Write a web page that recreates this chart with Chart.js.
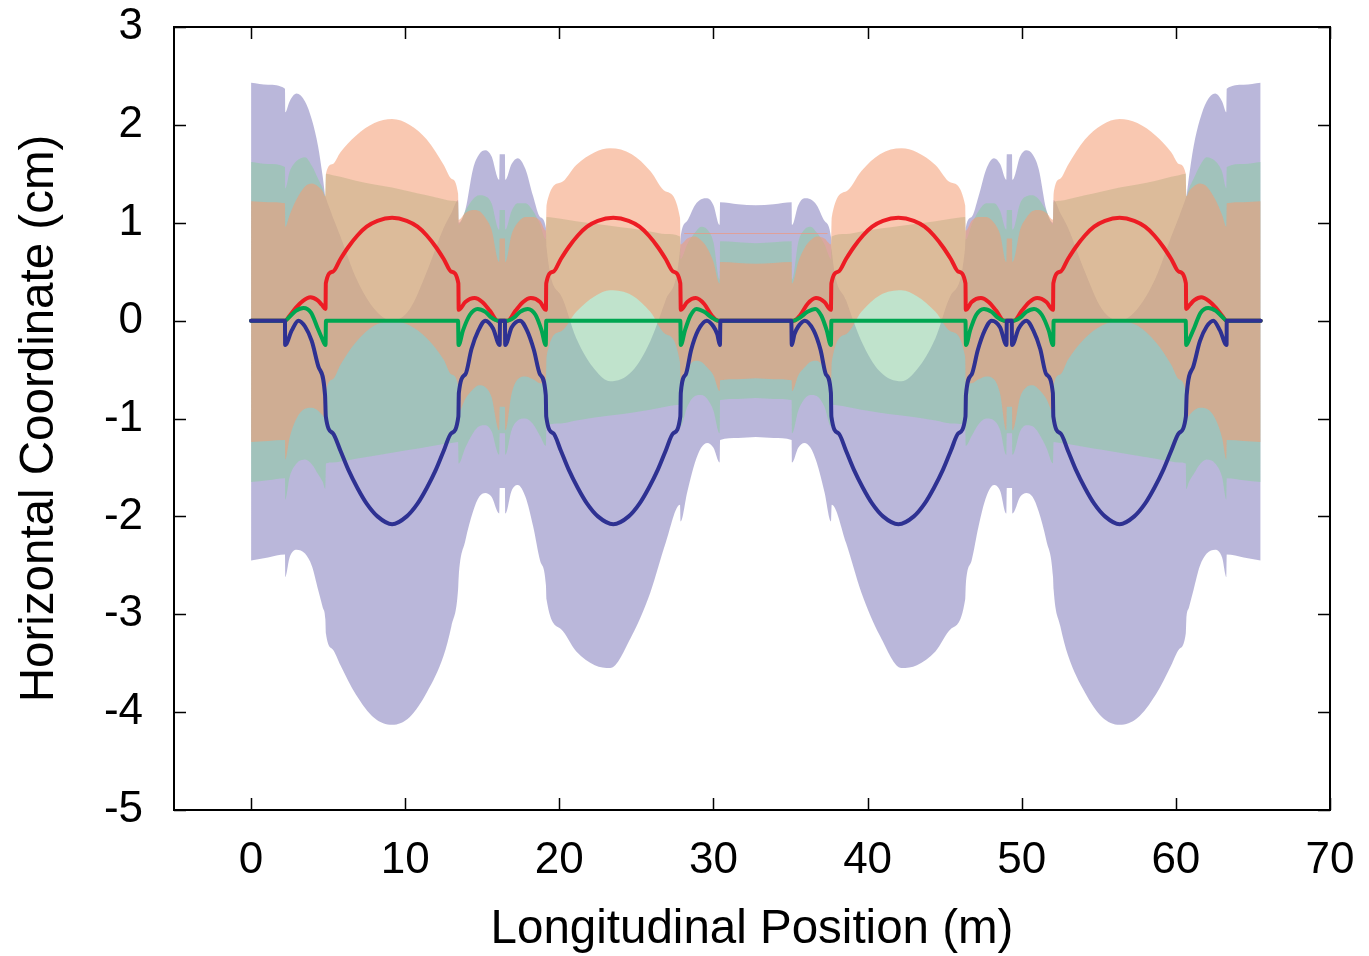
<!DOCTYPE html>
<html>
<head>
<meta charset="utf-8">
<title>Horizontal Coordinate vs Longitudinal Position</title>
<script src="https://cdn.jsdelivr.net/npm/chart.js@4.4.1/dist/chart.umd.min.js"></script>
<style>
  html, body { margin: 0; padding: 0; background: #fff; }
  #wrap { width: 1369px; height: 956px; }
</style>
</head>
<body>
<div id="wrap"><canvas id="chart" width="1369" height="956"></canvas></div>
<script>
(function () {
	'use strict';

	// ——— Axis ticks ———
	var xTicks = [0, 10, 20, 30, 40, 50, 60, 70];
	var yTicks = [-5, -4, -3, -2, -1, 0, 1, 2, 3];

	// ——— Beam envelopes (m, cm), shared positions ———
	var envPos = [
		0, 1.1, 2.2, 2.22, 2.5, 2.95, 3.5, 3.95, 4.35, 4.65, 4.82, 4.86, 5.3, 5.8, 6.8, 8.0, 9.15, 10.3, 11.4,
		12.5, 13.0, 13.43, 13.47, 13.9, 14.4, 14.8, 15.2, 15.6, 16.1, 16.13, 16.47, 16.5, 16.9, 17.3, 17.8,
		18.3, 18.75, 19.13, 19.17, 20.1, 21.1, 22.3, 23.3, 24.7, 25.9, 26.9, 27.83, 27.87, 28.3, 28.8, 29.2,
		29.6, 30.0, 30.4, 30.43, 31.6, 32.75,
		33.9, 35.07, 35.1, 35.5, 35.9, 36.3, 36.7, 37.2, 37.63, 37.67, 38.6, 39.6, 40.8, 42.2, 43.2, 44.4,
		45.4, 46.33, 46.37, 46.75, 47.2, 47.7, 48.2, 48.6, 49.0, 49.03, 49.37, 49.4, 49.9, 50.3, 50.7, 51.1,
		51.6, 52.03, 52.07, 52.5, 53.0, 54.1, 55.2, 56.35, 57.5, 58.7, 59.7, 60.2, 60.64, 60.68, 60.85, 61.15,
		61.55, 62.0, 62.55, 63.0, 63.28, 63.3, 64.4, 65.5
	];
	var purpleUpper = [
		2.43, 2.41, 2.37, 2.13, 2.24, 2.32, 2.24, 2.05, 1.78, 1.47, 1.27, 1.25, 1.06, 0.86, 0.44, 0.12, 0.0, 0.12, 0.5,
		0.95, 1.1, 1.23, 1.0, 1.13, 1.55, 1.7, 1.74, 1.68, 1.44, 1.7, 1.7, 1.44, 1.6, 1.66, 1.55,
		1.27, 1.06, 0.95, 0.75, 0.26, -0.18, -0.5, -0.62, -0.52, -0.21, 0.21, 0.73, 0.85, 1.02, 1.18, 1.24,
		1.25, 1.18, 0.98, 1.21, 1.19, 1.18,
		1.19, 1.21, 0.98, 1.18, 1.25, 1.24, 1.18, 1.02, 0.85, 0.73, 0.21, -0.21, -0.52, -0.62, -0.5, -0.18,
		0.26, 0.75, 0.95, 1.06, 1.27, 1.55, 1.66, 1.6, 1.44, 1.7, 1.7, 1.44, 1.68, 1.74, 1.7, 1.55,
		1.13, 1.0, 1.23, 1.1, 0.95, 0.5, 0.12, 0.0, 0.12, 0.44, 0.86, 1.06, 1.25, 1.27, 1.47, 1.78,
		2.05, 2.24, 2.32, 2.24, 2.13, 2.37, 2.41, 2.43
	];
	var purpleLower = [
		-2.45, -2.42, -2.39, -2.62, -2.42, -2.34, -2.38, -2.51, -2.75, -2.93, -3.05, -3.2, -3.36, -3.52, -3.82, -4.06, -4.13, -4.05, -3.8,
		-3.42, -3.12, -2.75, -2.62, -2.25, -1.95, -1.8, -1.76, -1.8, -1.97, -1.71, -1.71, -1.97, -1.74, -1.68, -1.8,
		-2.1, -2.45, -2.7, -2.85, -3.15, -3.38, -3.52, -3.55, -3.22, -2.78, -2.27, -1.88, -2.05, -1.75, -1.45, -1.3,
		-1.25, -1.3, -1.45, -1.22, -1.2, -1.19,
		-1.2, -1.22, -1.45, -1.3, -1.25, -1.3, -1.45, -1.75, -2.05, -1.88, -2.27, -2.78, -3.22, -3.55, -3.52, -3.38,
		-3.15, -2.85, -2.7, -2.45, -2.1, -1.8, -1.68, -1.74, -1.97, -1.71, -1.71, -1.97, -1.8, -1.76, -1.8, -1.95,
		-2.25, -2.62, -2.75, -3.12, -3.42, -3.8, -4.05, -4.13, -4.06, -3.82, -3.52, -3.36, -3.2, -3.05, -2.93, -2.75,
		-2.51, -2.38, -2.34, -2.42, -2.62, -2.39, -2.42, -2.45
	];
	var greenUpper = [
		1.62, 1.6, 1.57, 1.35, 1.52, 1.63, 1.67, 1.58, 1.45, 1.35, 1.27, 1.5, 1.485, 1.47, 1.43, 1.39, 1.36, 1.32, 1.28,
		1.24, 1.225, 1.21, 0.98, 1.12, 1.24, 1.28, 1.27, 1.2, 0.93, 1.13, 1.13, 0.93, 1.12, 1.2, 1.2,
		1.12, 0.98, 0.83, 1.06, 1.04, 1.015, 0.99, 0.97, 0.94, 0.91, 0.885, 0.86, 0.63, 0.78, 0.9, 0.96,
		0.93, 0.8, 0.42, 0.81, 0.8, 0.79,
		0.8, 0.81, 0.42, 0.8, 0.93, 0.96, 0.9, 0.78, 0.63, 0.86, 0.885, 0.91, 0.94, 0.97, 0.99, 1.015,
		1.04, 1.06, 0.83, 0.98, 1.12, 1.2, 1.2, 1.12, 0.93, 1.13, 1.13, 0.93, 1.2, 1.27, 1.28, 1.24,
		1.12, 0.98, 1.21, 1.225, 1.24, 1.28, 1.32, 1.36, 1.39, 1.43, 1.47, 1.485, 1.5, 1.27, 1.35, 1.45,
		1.58, 1.67, 1.63, 1.52, 1.35, 1.57, 1.6, 1.62
	];
	var greenLower = [
		-1.65, -1.63, -1.61, -1.83, -1.6, -1.46, -1.42, -1.47, -1.57, -1.65, -1.72, -1.46, -1.45, -1.44, -1.41, -1.38, -1.35, -1.32, -1.29,
		-1.26, -1.25, -1.24, -1.46, -1.3, -1.15, -1.08, -1.07, -1.13, -1.37, -1.15, -1.15, -1.37, -1.12, -1.02, -1.0,
		-1.06, -1.18, -1.28, -1.07, -1.05, -1.02, -0.99, -0.97, -0.94, -0.91, -0.88, -0.86, -1.08, -0.88, -0.77, -0.76,
		-0.8, -0.92, -1.15, -0.81, -0.8, -0.79,
		-0.8, -0.81, -1.15, -0.92, -0.8, -0.76, -0.77, -0.88, -1.08, -0.86, -0.88, -0.91, -0.94, -0.97, -0.99, -1.02,
		-1.05, -1.07, -1.28, -1.18, -1.06, -1.0, -1.02, -1.12, -1.37, -1.15, -1.15, -1.37, -1.13, -1.07, -1.08, -1.15,
		-1.3, -1.46, -1.24, -1.25, -1.26, -1.29, -1.32, -1.35, -1.38, -1.41, -1.44, -1.45, -1.46, -1.72, -1.65, -1.57,
		-1.47, -1.42, -1.46, -1.6, -1.83, -1.61, -1.63, -1.65
	];
	var orangeUpper = [
		1.22, 1.21, 1.2, 0.96, 1.08, 1.24, 1.37, 1.4, 1.37, 1.32, 1.27, 1.5, 1.6, 1.72, 1.89, 2.02, 2.06, 2.0, 1.85,
		1.59, 1.45, 1.3, 1.03, 1.1, 1.13, 1.12, 1.05, 0.93, 0.6, 0.84, 0.84, 0.6, 0.88, 1.0, 1.06,
		1.06, 1.02, 0.92, 1.18, 1.41, 1.59, 1.72, 1.76, 1.7, 1.53, 1.32, 1.05, 0.78, 0.84, 0.86, 0.82,
		0.74, 0.6, 0.38, 0.6, 0.59, 0.58,
		0.59, 0.6, 0.38, 0.6, 0.74, 0.82, 0.86, 0.84, 0.78, 1.05, 1.32, 1.53, 1.7, 1.76, 1.72, 1.59,
		1.41, 1.18, 0.92, 1.02, 1.06, 1.06, 1.0, 0.88, 0.6, 0.84, 0.84, 0.6, 0.93, 1.05, 1.12, 1.13,
		1.1, 1.03, 1.3, 1.45, 1.59, 1.85, 2.0, 2.06, 2.02, 1.89, 1.72, 1.6, 1.5, 1.27, 1.32, 1.37,
		1.4, 1.37, 1.24, 1.08, 0.96, 1.2, 1.21, 1.22
	];
	var orangeLower = [
		-1.24, -1.23, -1.22, -1.42, -1.2, -1.0, -0.9, -0.89, -0.92, -0.97, -1.0, -0.74, -0.6, -0.45, -0.22, -0.05, 0.0, -0.05, -0.18,
		-0.4, -0.55, -0.66, -0.93, -0.8, -0.7, -0.66, -0.68, -0.78, -1.12, -0.88, -0.88, -1.12, -0.75, -0.6, -0.57,
		-0.6, -0.64, -0.64, -0.37, -0.11, 0.09, 0.25, 0.31, 0.26, 0.09, -0.14, -0.43, -0.7, -0.5, -0.41, -0.42,
		-0.48, -0.56, -0.72, -0.61, -0.6, -0.59,
		-0.6, -0.61, -0.72, -0.56, -0.48, -0.42, -0.41, -0.5, -0.7, -0.43, -0.14, 0.09, 0.26, 0.31, 0.25, 0.09,
		-0.11, -0.37, -0.64, -0.64, -0.6, -0.57, -0.6, -0.75, -1.12, -0.88, -0.88, -1.12, -0.78, -0.68, -0.66, -0.7,
		-0.8, -0.93, -0.66, -0.55, -0.4, -0.18, -0.05, 0.0, -0.05, -0.22, -0.45, -0.6, -0.74, -1.0, -0.97, -0.92,
		-0.89, -0.9, -1.0, -1.2, -1.42, -1.22, -1.23, -1.24
	];
	// faint edge line across the central drift
	var edgePos = [28.1, 37.4];
	var edgeVal = [0.89, 0.89];

	// ——— Orbits ———
	var bluePos = [
		0, 2.2, 2.21, 2.64, 3.07, 3.5, 3.94, 4.37, 4.8, 4.85, 5.3, 5.8, 6.3, 6.9, 7.5, 8.2, 9.15, 10.1, 10.8, 11.4,
		12.0, 12.5, 13.0, 13.45, 13.48, 13.9, 14.3, 14.75, 15.2, 15.7, 16.13, 16.15, 16.47, 16.49, 16.9, 17.45,
		17.9, 18.35, 18.75, 19.12, 19.15, 19.6, 20.1, 20.6, 21.2, 21.8, 22.5, 23.5, 24.5, 25.2, 25.8, 26.4, 26.9,
		27.4, 27.85, 27.88, 28.2, 28.55, 29.0, 29.57, 30.0, 30.25, 30.42, 30.45, 32.75,
		35.05, 35.08, 35.25, 35.5, 35.93, 36.5, 36.95, 37.3, 37.62, 37.65, 38.1, 38.6, 39.1, 39.7, 40.3, 41.0,
		42.0, 43.0, 43.7, 44.3, 44.9, 45.4, 45.9, 46.35, 46.38, 46.75, 47.15, 47.6, 48.05, 48.6, 49.01, 49.03,
		49.35, 49.37, 49.8, 50.3, 50.75, 51.2, 51.6, 52.02, 52.05, 52.5, 53.0, 53.5, 54.1, 54.7, 55.4, 56.35,
		57.3, 58.0, 58.6, 59.2, 59.7, 60.2, 60.65, 60.7, 61.13, 61.56, 62.0, 62.43, 62.86, 63.29, 63.3, 65.5
	];
	var blueOrbit = [
		0, 0, -0.25, -0.1, 0, -0.06, -0.21, -0.47, -0.76, -0.98, -1.15, -1.33, -1.52, -1.71, -1.87, -2.0, -2.08, -2.0, -1.87, -1.71,
		-1.52, -1.33, -1.15, -0.98, -0.74, -0.55, -0.29, -0.1, 0, -0.08, -0.25, 0, 0, -0.25, -0.07, 0,
		-0.1, -0.3, -0.55, -0.76, -0.98, -1.15, -1.33, -1.52, -1.71, -1.87, -2.0, -2.08, -2.0, -1.87, -1.71, -1.52, -1.33,
		-1.15, -0.98, -0.74, -0.55, -0.3, -0.1, 0, -0.06, -0.14, -0.25, 0, 0,
		0, -0.25, -0.14, -0.06, 0, -0.1, -0.3, -0.55, -0.74, -0.98, -1.15, -1.33, -1.52, -1.71, -1.87, -2.0,
		-2.08, -2.0, -1.87, -1.71, -1.52, -1.33, -1.15, -0.98, -0.76, -0.55, -0.3, -0.1, 0, -0.07, -0.25, 0,
		0, -0.25, -0.08, 0, -0.1, -0.29, -0.55, -0.74, -0.98, -1.15, -1.33, -1.52, -1.71, -1.87, -2.0, -2.08,
		-2.0, -1.87, -1.71, -1.52, -1.33, -1.15, -0.98, -0.76, -0.47, -0.21, -0.06, 0, -0.1, -0.25, 0, 0
	];
	var redPos = [
		0, 2.2, 2.5, 2.9, 3.35, 3.85, 4.3, 4.6, 4.83, 4.85, 5.3, 5.8, 6.3, 6.9, 7.5, 8.2, 9.15, 10.1, 10.8, 11.4,
		12.0, 12.5, 13.0, 13.45, 13.47, 13.9, 14.5, 15.0, 15.5, 16.0, 16.65, 17.15, 17.65, 18.15, 18.75, 19.13,
		19.15, 19.6, 20.1, 20.6, 21.2, 21.8, 22.5, 23.5, 24.5, 25.2, 25.8, 26.4, 26.9, 27.4, 27.85, 27.88, 28.3,
		28.85, 29.4, 29.9, 30.3, 32.75,
		35.2, 35.6, 36.1, 36.65, 37.2, 37.62, 37.65, 38.1, 38.6, 39.1, 39.7, 40.3, 41.0, 42.0, 43.0, 43.7,
		44.3, 44.9, 45.4, 45.9, 46.35, 46.37, 46.75, 47.35, 47.85, 48.35, 48.85, 49.5, 50.0, 50.5, 51.0, 51.6,
		52.03, 52.05, 52.5, 53.0, 53.5, 54.1, 54.7, 55.4, 56.35, 57.3, 58.0, 58.6, 59.2, 59.7, 60.2, 60.65,
		60.67, 60.9, 61.2, 61.65, 62.15, 62.6, 63.0, 63.3, 65.5
	];
	var redOrbit = [
		0, 0, 0.05, 0.13, 0.2, 0.24, 0.21, 0.16, 0.12, 0.38, 0.5, 0.63, 0.75, 0.87, 0.96, 1.02, 1.05, 1.02, 0.96, 0.87,
		0.75, 0.63, 0.5, 0.38, 0.11, 0.19, 0.23, 0.19, 0.1, 0, 0, 0.1, 0.19, 0.23, 0.19, 0.11,
		0.38, 0.5, 0.63, 0.75, 0.87, 0.96, 1.02, 1.05, 1.02, 0.96, 0.87, 0.75, 0.63, 0.5, 0.38, 0.11, 0.19,
		0.23, 0.17, 0.05, 0, 0,
		0, 0.05, 0.17, 0.23, 0.19, 0.11, 0.38, 0.5, 0.63, 0.75, 0.87, 0.96, 1.02, 1.05, 1.02, 0.96,
		0.87, 0.75, 0.63, 0.5, 0.38, 0.11, 0.19, 0.23, 0.19, 0.1, 0, 0, 0.1, 0.19, 0.23, 0.19,
		0.11, 0.38, 0.5, 0.63, 0.75, 0.87, 0.96, 1.02, 1.05, 1.02, 0.96, 0.87, 0.75, 0.63, 0.5, 0.38,
		0.12, 0.16, 0.21, 0.24, 0.2, 0.13, 0.05, 0, 0
	];
	var greenPos = [
		0, 2.2, 2.5, 2.9, 3.4, 3.9, 4.3, 4.6, 4.83, 4.86, 13.43, 13.46, 13.75, 14.2, 14.7, 15.2, 15.6, 16.0,
		16.65, 17.05, 17.45, 17.95, 18.45, 18.85, 19.12, 19.15, 27.85, 27.88, 28.15, 28.5, 28.9, 29.4, 29.9, 30.3, 32.75,
		35.2, 35.6, 36.1, 36.6, 37.0, 37.35, 37.62, 37.65, 46.35, 46.38, 46.65, 47.05, 47.55, 48.05, 48.45, 48.85,
		49.5, 49.9, 50.3, 50.8, 51.3, 51.75, 52.04, 52.07, 60.64, 60.67, 60.9, 61.2, 61.6, 62.1, 62.6, 63.0, 63.3, 65.5
	];
	var greenOrbit = [
		0, 0, 0.04, 0.1, 0.13, 0.08, -0.07, -0.18, -0.25, 0, 0, -0.25, -0.1, 0.06, 0.12, 0.09, 0.03, 0,
		0, 0.03, 0.09, 0.12, 0.06, -0.1, -0.25, 0, 0, -0.25, -0.1, 0.05, 0.12, 0.09, 0.03, 0, 0,
		0, 0.03, 0.09, 0.12, 0.05, -0.1, -0.25, 0, 0, -0.25, -0.1, 0.06, 0.12, 0.09, 0.03, 0,
		0, 0.03, 0.09, 0.12, 0.06, -0.1, -0.25, 0, 0, -0.25, -0.18, -0.07, 0.08, 0.13, 0.1, 0.04, 0, 0
	];

	var FONT = "'Liberation Sans', Arial, Helvetica, sans-serif";

	function pts(xs, ys) {
		return xs.map(function (v, i) { return { x: v, y: ys[i] }; });
	}

	function band(label, hi, lo, color, order) {
		return [{
			label: label + ' upper',
			data: pts(envPos, hi),
			fill: '+1',
			backgroundColor: color,
			borderColor: 'transparent',
			borderWidth: 0,
			pointRadius: 0,
			cubicInterpolationMode: 'monotone',
			order: order
		}, {
			label: label + ' lower',
			data: pts(envPos, lo),
			fill: false,
			borderColor: 'transparent',
			borderWidth: 0,
			pointRadius: 0,
			cubicInterpolationMode: 'monotone',
			order: order
		}];
	}

	function orbit(label, xs, ys, color, order) {
		return {
			label: label,
			data: pts(xs, ys),
			fill: false,
			borderColor: color,
			borderWidth: 4,
			pointRadius: 0,
			cubicInterpolationMode: 'monotone',
			borderJoinStyle: 'round',
			borderCapStyle: 'round',
			order: order
		};
	}

	// gnuplot-like frame with inward ticks on all four sides
	var frame = {
		id: 'frame',
		afterDraw: function (chart) {
			var ctx = chart.ctx, a = chart.chartArea;
			var xs = chart.scales.x, ys = chart.scales.y;
			ctx.save();
			ctx.strokeStyle = '#000';
			ctx.lineWidth = 1.5;
			ctx.beginPath();
			xTicks.forEach(function (v) {
				var p = Math.round(xs.getPixelForValue(v)) + 0.5;
				ctx.moveTo(p, a.bottom); ctx.lineTo(p, a.bottom - 12);
				ctx.moveTo(p, a.top); ctx.lineTo(p, a.top + 12);
			});
			yTicks.forEach(function (v) {
				var p = Math.round(ys.getPixelForValue(v)) + 0.5;
				ctx.moveTo(a.left, p); ctx.lineTo(a.left + 12, p);
				ctx.moveTo(a.right, p); ctx.lineTo(a.right - 12, p);
			});
			ctx.stroke();
			ctx.lineWidth = 2;
			ctx.strokeRect(a.left, a.top, a.right - a.left, a.bottom - a.top);
			ctx.restore();
		}
	};

	var datasets = [
		orbit('Blue orbit', bluePos, blueOrbit, '#2e3192', 0),
		orbit('Green orbit', greenPos, greenOrbit, '#00a651', 1),
		orbit('Red orbit', redPos, redOrbit, '#ed1c24', 2),
		{
			label: 'Envelope edge',
			data: pts(edgePos, edgeVal),
			fill: false,
			borderColor: 'rgba(240, 150, 125, 0.7)',
			borderWidth: 1,
			pointRadius: 0,
			order: 3
		}
	].concat(
		band('Orange envelope', orangeUpper, orangeLower, 'rgba(244, 155, 113, 0.55)', 4),
		band('Green envelope', greenUpper, greenLower, 'rgba(140, 204, 162, 0.55)', 5),
		band('Purple envelope', purpleUpper, purpleLower, 'rgba(130, 124, 188, 0.55)', 6)
	);

	new Chart(document.getElementById('chart').getContext('2d'), {
		type: 'line',
		data: { datasets: datasets },
		options: {
			responsive: false,
			animation: false,
			devicePixelRatio: 1,
			events: [],
			layout: { padding: { top: 27, right: 39, bottom: 0, left: 0 } },
			plugins: { legend: { display: false }, tooltip: { enabled: false } },
			scales: {
				x: {
					type: 'linear',
					min: -5,
					max: 70,
					afterBuildTicks: function (axis) { axis.ticks = xTicks.map(function (v) { return { value: v }; }); },
					afterFit: function (axis) { axis.height = 146; },
					grid: { display: false, drawTicks: true, tickLength: 24 },
					border: { display: false },
					ticks: { color: '#000', font: { family: FONT, size: 44 }, padding: 0, maxRotation: 0, autoSkip: false },
					title: {
						display: true,
						text: 'Longitudinal Position (m)',
						color: '#000',
						font: { family: FONT, size: 47.5, lineHeight: 1.1 },
						padding: { top: 0, bottom: 0 }
					}
				},
				y: {
					type: 'linear',
					min: -5,
					max: 3,
					afterBuildTicks: function (axis) { axis.ticks = yTicks.map(function (v) { return { value: v }; }); },
					afterFit: function (axis) { axis.width = 174; },
					grid: { display: false, drawTicks: true, tickLength: 31 },
					border: { display: false },
					ticks: { color: '#000', font: { family: FONT, size: 44 }, padding: 0, autoSkip: false },
					title: {
						display: true,
						text: 'Horizontal Coordinate (cm)',
						color: '#000',
						font: { family: FONT, size: 47.5, lineHeight: 1.1 },
						padding: { top: 14, bottom: 0 }
					}
				}
			}
		},
		plugins: [frame]
	});
})();
</script>
</body>
</html>
